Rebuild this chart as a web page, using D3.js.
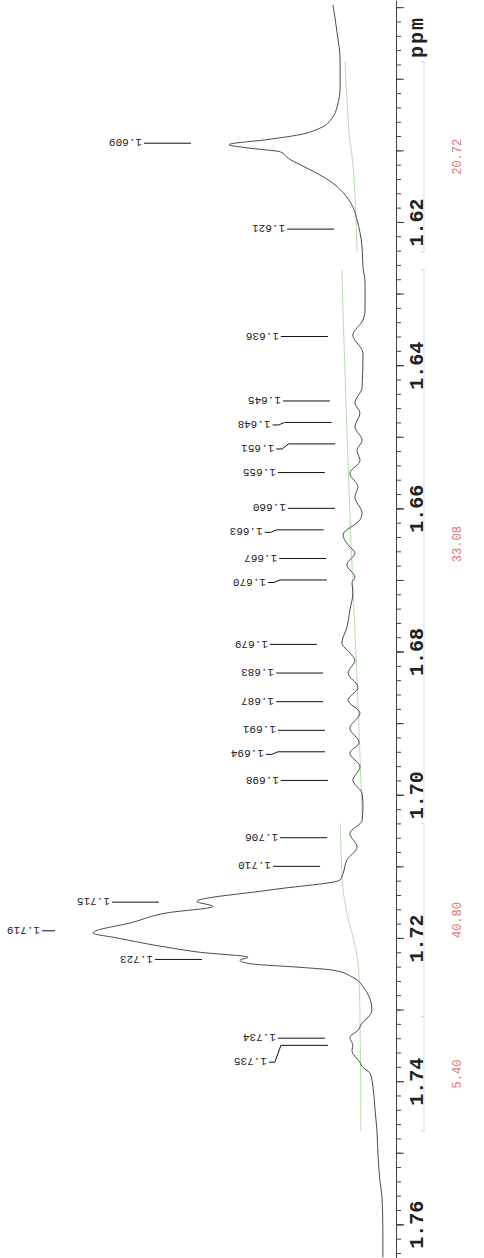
<!DOCTYPE html>
<html>
<head>
<meta charset="utf-8">
<script src="https://cdn.jsdelivr.net/npm/d3@7"></script>
<style>
  html, body { margin: 0; padding: 0; background: #fff; }
  svg { display: block; }
</style>
</head>
<body>
<svg id="chart"></svg>
<script>
const width = 484;
const height = 1258;

// spectrum trace: chemical shift (ppm) and relative intensity (tallest peak = 100)
const spectrumPpm = [
  1.5897, 1.5936, 1.5974, 1.6011, 1.6039, 1.6055, 1.6069, 1.6078, 1.6085, 1.6092,
  1.6097, 1.6102, 1.6111, 1.6120, 1.6132, 1.6146, 1.6159, 1.6179, 1.6197, 1.6215,
  1.6235, 1.6263, 1.6285, 1.6323, 1.6337, 1.6358, 1.6383, 1.6431, 1.6453, 1.6467,
  1.6486, 1.6505, 1.6519, 1.6533, 1.6551, 1.6570, 1.6584, 1.6607, 1.6616, 1.6637,
  1.6654, 1.6662, 1.6679, 1.6696, 1.6704, 1.6718, 1.6742, 1.6766, 1.6788, 1.6802,
  1.6812, 1.6830, 1.6850, 1.6868, 1.6886, 1.6907, 1.6927, 1.6942, 1.6961, 1.6980,
  1.6998, 1.7017, 1.7036, 1.7054, 1.7073, 1.7091, 1.7110, 1.7119, 1.7133, 1.7149,
  1.7156, 1.7165, 1.7178, 1.7193, 1.7200, 1.7213, 1.7220, 1.7227, 1.7231, 1.7236,
  1.7241, 1.7245, 1.7255, 1.7270, 1.7290, 1.7301, 1.7311, 1.7319, 1.7329, 1.7339,
  1.7350, 1.7357, 1.7374, 1.7381, 1.7389, 1.7409, 1.7437, 1.7469, 1.7506, 1.7539,
  1.7562, 1.7608, 1.7646
];
const spectrumInt = [
  19.2, 17.8, 16.8, 16.8, 17.8, 19.5, 23.6, 30.3, 41.4, 54.2,
  47.1, 37.0, 34.3, 30.3, 24.6, 19.2, 15.8, 12.5, 11.1, 10.1,
  9.4, 9.1, 8.4, 8.4, 9.1, 12.5, 9.1, 9.4, 11.8, 10.1,
  11.8, 9.4, 11.1, 10.1, 13.5, 10.8, 11.8, 9.4, 10.1, 15.8,
  13.5, 11.8, 14.5, 11.8, 12.8, 12.5, 13.5, 14.5, 16.2, 13.5,
  11.8, 14.1, 10.8, 14.1, 10.1, 13.5, 10.4, 13.5, 10.1, 12.5,
  9.4, 9.1, 9.4, 13.5, 11.1, 14.5, 15.8, 16.8, 40.4, 65.0,
  59.6, 75.1, 86.5, 100, 91.9, 75.1, 64.0, 47.8, 50.5, 47.1,
  30.3, 19.2, 12.5, 8.8, 6.4, 6.1, 7.4, 9.4, 10.8, 13.5,
  12.5, 12.8, 10.1, 9.1, 6.7, 5.7, 5.1, 4.4, 4.0, 3.4,
  2.7, 2.4, 2.4
];

// picked peaks
const peakLabels = [
  1.609, 1.621, 1.636, 1.645, 1.648, 1.651, 1.655, 1.660, 1.663, 1.667, 1.670,
  1.679, 1.683, 1.687, 1.691, 1.694, 1.698, 1.706, 1.710,
  1.715, 1.719, 1.723, 1.734, 1.735
];

// labelled axis ticks
const axisLabels = [1.62, 1.64, 1.66, 1.68, 1.70, 1.72, 1.74, 1.76];

// integral regions
const integralFrom = [1.5976, 1.6267, 1.7040, 1.7310];
const integralTo = [1.6242, 1.7033, 1.7310, 1.7470];
const integralValues = ['20.72', '33.08', '40.80', '5.40'];
const integralHigh = [15.2, 16.2, 16.8, 10.1];
const integralLow = [11.1, 9.4, 10.1, 9.8];

const axisX = 396;
const mono = "'Liberation Mono', 'DejaVu Sans Mono', monospace";

const svg = d3.select('#chart')
  .attr('width', width)
  .attr('height', height)
  .attr('viewBox', [0, 0, width, height]);

svg.append('rect').attr('width', width).attr('height', height).attr('fill', '#fff');

const y = d3.scaleLinear().domain([1.589, 1.7647]).range([0, height]);
const x = d3.scaleLinear().domain([0, 100]).range([390, 93]);

const spectrum = spectrumPpm.map((p, i) => ({ ppm: p, v: spectrumInt[i] }));
const bisect = d3.bisector(d => d.ppm).left;
const intensityAt = p => {
  const i = bisect(spectrum, p);
  if (i <= 0) return spectrum[0].v;
  if (i >= spectrum.length) return spectrum[spectrum.length - 1].v;
  const a = spectrum[i - 1], b = spectrum[i];
  return a.v + (b.v - a.v) * (p - a.ppm) / (b.ppm - a.ppm);
};
const peakTop = p => d3.max([intensityAt(p)].concat(
  spectrum.filter(d => Math.abs(d.ppm - p) <= 0.0005).map(d => d.v)));

// axis: fine ticks, 0.01 ticks, labelled ticks
const minorTicks = d3.range(795, 883).map(i => i / 500);
const midTicks = d3.range(159, 177).map(i => i / 100);

svg.append('g')
  .attr('transform', `translate(${axisX},0)`)
  .call(d3.axisRight(y).tickValues(minorTicks).tickSize(5).tickSizeOuter(0).tickFormat(''))
  .attr('color', '#444');

svg.append('g')
  .attr('transform', `translate(${axisX},0)`)
  .call(d3.axisRight(y).tickValues(midTicks).tickSize(8).tickSizeOuter(0).tickFormat(''))
  .attr('color', '#444')
  .call(g => g.select('.domain').remove());

svg.append('g')
  .attr('transform', `translate(${axisX},0)`)
  .call(d3.axisRight(y).tickValues(axisLabels).tickSize(8).tickSizeOuter(0).tickFormat(d3.format('.2f')))
  .attr('color', '#444')
  .attr('font-family', mono)
  .attr('font-size', 20)
  .call(g => g.select('.domain').remove())
  .call(g => g.selectAll('.tick text')
    .attr('x', 0)
    .attr('dy', '0.35em')
    .attr('text-anchor', 'middle')
    .attr('font-weight', 'bold')
    .attr('fill', '#222')
    .attr('transform', 'translate(20,0) rotate(-90)'));

svg.append('text')
  .attr('transform', `translate(${axisX + 20},37) rotate(-90)`)
  .attr('dy', '0.35em')
  .attr('text-anchor', 'middle')
  .attr('font-family', mono)
  .attr('font-size', 20)
  .attr('font-weight', 'bold')
  .attr('letter-spacing', 2)
  .attr('fill', '#222')
  .text('ppm');

// integral brackets and values
const integrals = integralFrom.map((p0, k) => ({
  p0, p1: integralTo[k], value: integralValues[k], hi: integralHigh[k], lo: integralLow[k]
}));

const brk = svg.append('g').attr('stroke', '#d8d8d8').attr('fill', 'none');
integrals.forEach(d => {
  brk.append('path')
    .attr('d', `M${axisX + 25},${y(d.p0)}H${axisX + 28}V${y(d.p1)}H${axisX + 25}`);
});

svg.append('g')
  .selectAll('text')
  .data(integrals)
  .join('text')
  .attr('transform', d => `translate(457,${y((d.p0 + d.p1) / 2)}) rotate(-90)`)
  .attr('dy', '0.35em')
  .attr('text-anchor', 'middle')
  .attr('font-family', mono)
  .attr('font-size', 12)
  .attr('fill', '#e07474')
  .text(d => d.value);

// integral curves: running area of the trace, accumulated from the high-ppm end
const curve = d3.line()
  .x(d => x(d.v))
  .y(d => y(d.ppm))
  .curve(d3.curveMonotoneY);

integrals.forEach(d => {
  const pts = [{ ppm: d.p0, v: intensityAt(d.p0) }]
    .concat(spectrum.filter(s => s.ppm > d.p0 && s.ppm < d.p1))
    .concat([{ ppm: d.p1, v: intensityAt(d.p1) }]);
  const cum = new Array(pts.length).fill(0);
  let acc = 0;
  for (let i = pts.length - 2; i >= 0; i--) {
    acc += (pts[i].v + pts[i + 1].v) / 2 * (pts[i + 1].ppm - pts[i].ppm);
    cum[i] = acc;
  }
  const s = d3.scaleLinear().domain([0, acc]).range([d.lo, d.hi]);
  svg.append('path')
    .datum(pts.map((p, i) => ({ ppm: p.ppm, v: s(cum[i]) })))
    .attr('fill', 'none')
    .attr('stroke', '#b9dcb0')
    .attr('stroke-width', 1)
    .attr('d', curve);
});

// spectrum
svg.append('path')
  .datum(spectrum)
  .attr('fill', 'none')
  .attr('stroke', '#4a4a4a')
  .attr('stroke-width', 1)
  .attr('stroke-linejoin', 'round')
  .attr('d', curve);

// peak labels, nudged apart where they crowd, with a bent leader
let lastY = -Infinity;
const labels = peakLabels.map(p => {
  const py = y(p);
  const ty = Math.max(py, lastY + 24);
  lastY = ty;
  const top = peakTop(p);
  const lineEnd = x(top) - (top > 30 ? 38 : 25);
  const bent = ty - py > 1.5;
  const lineStart = Math.max(42, lineEnd - 47 - (bent ? 12 : 0));
  return { p, py, ty, lineEnd, lineStart, bent };
});

const lab = svg.append('g');
lab.selectAll('path')
  .data(labels)
  .join('path')
  .attr('fill', 'none')
  .attr('stroke', '#111')
  .attr('stroke-width', 1)
  .attr('d', d => d.bent
    ? `M${d.lineStart},${d.ty}H${d.lineStart + 6}L${d.lineStart + 12},${d.py}H${d.lineEnd}`
    : `M${d.lineStart},${d.py}H${d.lineEnd}`);

lab.selectAll('text')
  .data(labels)
  .join('text')
  .attr('transform', d => `translate(${d.lineStart - 2},${d.ty}) rotate(180)`)
  .attr('dy', '0.35em')
  .attr('font-family', mono)
  .attr('font-size', 11)
  .attr('fill', '#222')
  .text(d => d3.format('.3f')(d.p));
</script>
</body>
</html>
